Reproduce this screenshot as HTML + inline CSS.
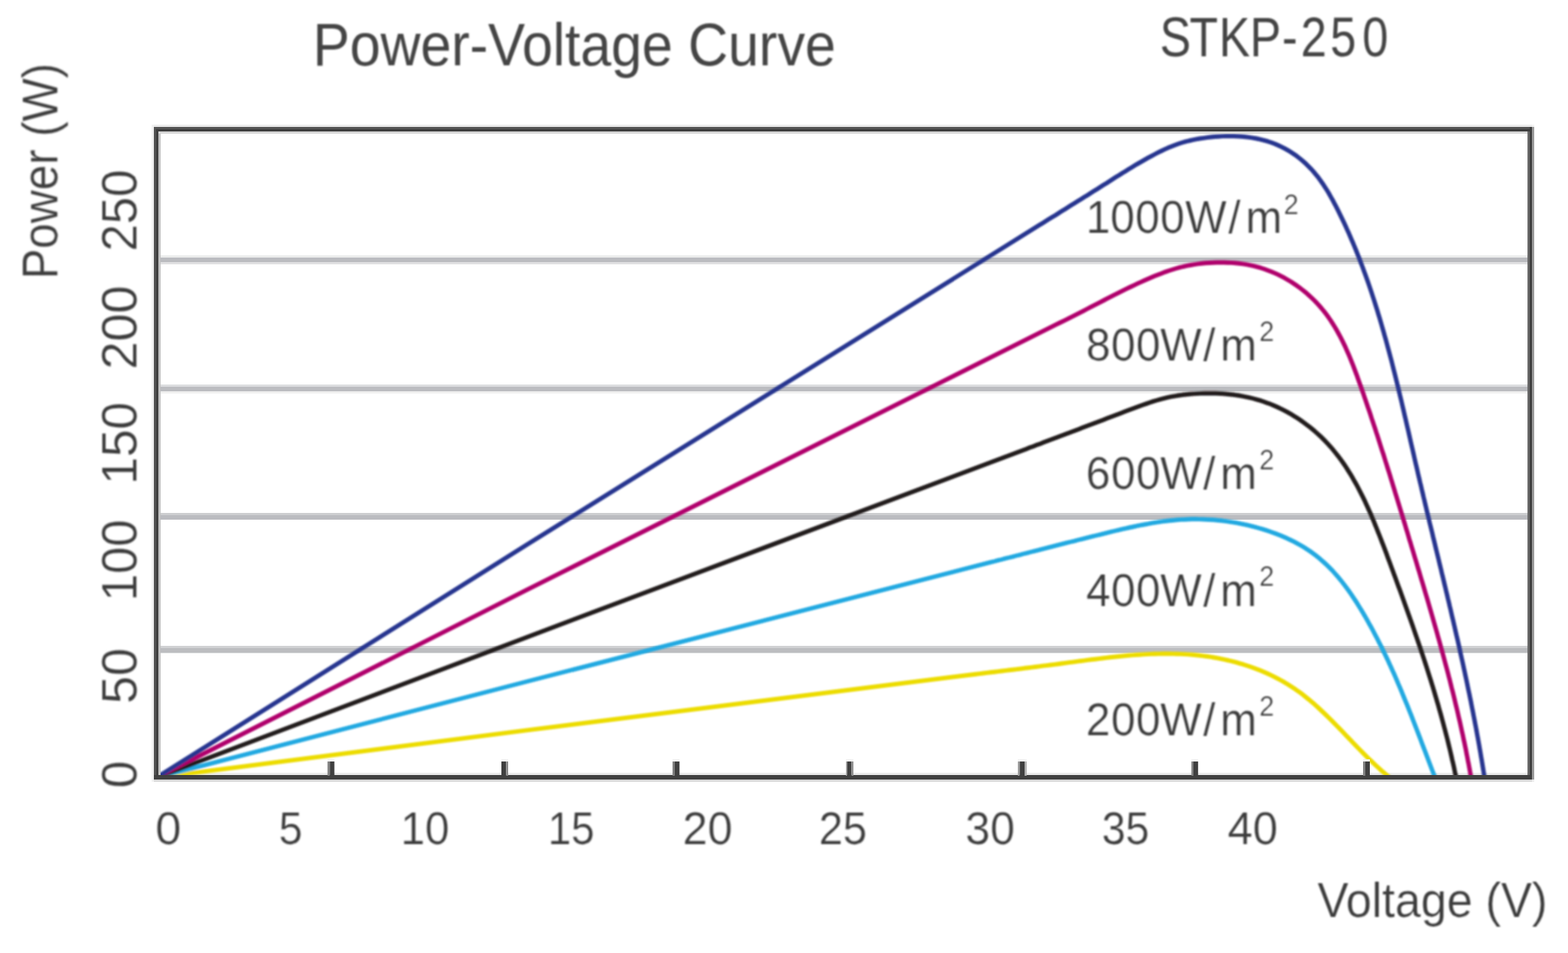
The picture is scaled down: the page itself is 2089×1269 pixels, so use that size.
<!DOCTYPE html>
<html lang="en"><head><meta charset="utf-8"><title>Power-Voltage Curve STKP-250</title>
<style>html,body{margin:0;padding:0;background:#fff}body{width:2089px;height:1269px;overflow:hidden}svg{display:block}text{font-family:'Liberation Sans', sans-serif}</style></head><body>
<svg width="2089" height="1269" viewBox="0 0 2089 1269">
<defs><filter id="soft" x="0" y="0" width="2089" height="1269" filterUnits="userSpaceOnUse"><feGaussianBlur stdDeviation="1.0"/></filter></defs>
<rect width="2089" height="1269" fill="#fff"/>
<g id="grid">
<rect x="211" y="340" width="1826" height="3" fill="#ebecec"/>
<rect x="211" y="343" width="1826" height="6" fill="#bbbcc0"/>
<rect x="211" y="349" width="1826" height="3" fill="#e0e0e2"/>
<rect x="211" y="512" width="1826" height="3" fill="#dcdddf"/>
<rect x="211" y="515" width="1826" height="6" fill="#bbbcc0"/>
<rect x="211" y="521" width="1826" height="3" fill="#f0f0f0"/>
<rect x="211" y="683" width="1826" height="3" fill="#cdced0"/>
<rect x="211" y="686" width="1826" height="6" fill="#bbbcc0"/>
<rect x="211" y="860" width="1826" height="3" fill="#d0d1d3"/>
<rect x="211" y="863" width="1826" height="6.5" fill="#bcbdc0"/>
<rect x="211" y="1029" width="1824" height="3" fill="#ebebeb"/>
</g>
<g id="curves" filter="url(#soft)" fill="none" stroke-width="5.9" stroke-linejoin="round" stroke-linecap="butt">
<path id="yellow" stroke="#ecdc00" d="M208.5,1035.4 L700.0,972.6 L1299.9,897.7 L1304.9,897.1 L1309.9,896.5 L1314.8,895.9 L1319.8,895.3 L1324.8,894.7 L1329.7,894.1 L1334.7,893.5 L1339.7,892.9 L1344.7,892.3 L1349.6,891.7 L1354.6,891.1 L1359.6,890.5 L1364.5,889.8 L1369.5,889.2 L1374.5,888.6 L1379.5,888.0 L1384.4,887.4 L1389.4,886.7 L1394.4,886.1 L1399.3,885.5 L1404.3,884.8 L1409.3,884.2 L1414.3,883.5 L1419.2,882.9 L1424.2,882.2 L1429.2,881.6 L1434.2,880.9 L1439.1,880.2 L1444.1,879.6 L1449.1,878.9 L1454.0,878.3 L1459.0,877.7 L1464.0,877.1 L1468.9,876.5 L1473.9,875.9 L1478.9,875.3 L1483.8,874.8 L1488.8,874.2 L1493.8,873.7 L1498.7,873.3 L1503.7,872.8 L1508.7,872.4 L1513.6,872.0 L1518.6,871.7 L1523.5,871.4 L1528.5,871.1 L1533.4,870.9 L1538.4,870.7 L1543.3,870.6 L1548.3,870.5 L1553.3,870.5 L1558.2,870.5 L1563.1,870.6 L1568.1,870.7 L1573.0,870.9 L1578.0,871.1 L1582.9,871.4 L1587.9,871.8 L1592.8,872.3 L1597.7,872.8 L1602.7,873.4 L1607.6,874.0 L1612.5,874.7 L1617.4,875.5 L1622.4,876.4 L1627.2,877.4 L1632.1,878.4 L1637.0,879.5 L1641.8,880.7 L1646.7,881.9 L1651.5,883.3 L1656.3,884.7 L1661.0,886.2 L1665.7,887.8 L1670.4,889.5 L1675.1,891.2 L1679.7,893.1 L1684.3,895.0 L1688.9,897.0 L1693.4,899.1 L1697.9,901.3 L1702.3,903.6 L1706.7,906.0 L1711.0,908.4 L1715.3,911.0 L1719.6,913.7 L1723.8,916.4 L1727.9,919.3 L1732.0,922.2 L1736.0,925.2 L1739.9,928.4 L1743.9,931.6 L1747.7,934.8 L1751.6,938.1 L1755.4,941.5 L1759.1,945.0 L1762.8,948.5 L1766.5,952.0 L1770.2,955.6 L1773.8,959.2 L1777.4,962.8 L1781.0,966.5 L1784.6,970.1 L1788.1,973.8 L1791.6,977.5 L1795.1,981.2 L1798.7,984.8 L1802.1,988.5 L1805.6,992.1 L1809.1,995.7 L1812.6,999.3 L1816.1,1002.8 L1819.6,1006.3 L1823.1,1009.8 L1826.7,1013.2 L1830.2,1016.6 L1833.7,1019.9 L1837.3,1023.2 L1840.9,1026.5 L1844.5,1029.6 L1848.1,1032.7 L1851.0,1035.1"/>
<path id="cyan" stroke="#21a9e1" d="M208.5,1035.4 L700.0,908.0 L1319.9,748.7 L1324.8,747.5 L1329.6,746.2 L1334.5,745.0 L1339.3,743.7 L1344.2,742.5 L1349.0,741.3 L1353.8,740.0 L1358.7,738.8 L1363.5,737.5 L1368.4,736.3 L1373.3,735.0 L1378.1,733.8 L1383.0,732.6 L1387.8,731.3 L1392.7,730.1 L1397.5,728.9 L1402.4,727.6 L1407.2,726.4 L1412.1,725.2 L1417.0,723.9 L1421.8,722.7 L1426.7,721.5 L1431.6,720.3 L1436.4,719.0 L1441.3,717.8 L1446.1,716.6 L1451.0,715.4 L1455.9,714.2 L1460.8,713.0 L1465.6,711.8 L1470.5,710.6 L1475.4,709.4 L1480.2,708.2 L1485.1,707.0 L1490.0,705.9 L1494.9,704.7 L1499.8,703.6 L1504.6,702.5 L1509.5,701.5 L1514.4,700.4 L1519.3,699.4 L1524.2,698.5 L1529.1,697.6 L1534.0,696.7 L1538.8,695.9 L1543.7,695.1 L1548.6,694.4 L1553.5,693.8 L1558.4,693.2 L1563.3,692.7 L1568.2,692.3 L1573.1,691.9 L1578.0,691.7 L1582.9,691.5 L1587.8,691.3 L1592.8,691.3 L1597.7,691.4 L1602.6,691.5 L1607.5,691.7 L1612.4,692.0 L1617.3,692.3 L1622.2,692.8 L1627.2,693.3 L1632.1,693.9 L1637.0,694.6 L1641.9,695.4 L1646.9,696.2 L1651.8,697.1 L1656.7,698.1 L1661.6,699.2 L1666.6,700.4 L1671.5,701.6 L1676.4,703.0 L1681.3,704.4 L1686.2,705.9 L1691.0,707.5 L1695.8,709.2 L1700.6,710.9 L1705.3,712.8 L1710.0,714.8 L1714.6,716.8 L1719.2,719.0 L1723.7,721.2 L1728.2,723.6 L1732.6,726.0 L1736.9,728.6 L1741.1,731.3 L1745.3,734.0 L1749.3,736.9 L1753.3,739.9 L1757.2,743.0 L1760.9,746.2 L1764.6,749.5 L1768.2,752.9 L1771.7,756.4 L1775.2,759.9 L1778.5,763.6 L1781.8,767.3 L1785.0,771.2 L1788.1,775.0 L1791.2,779.0 L1794.2,783.0 L1797.1,787.0 L1800.0,791.1 L1802.8,795.3 L1805.6,799.5 L1808.3,803.7 L1810.9,808.0 L1813.6,812.3 L1816.1,816.6 L1818.7,820.9 L1821.2,825.3 L1823.6,829.7 L1826.1,834.0 L1828.5,838.4 L1830.8,842.8 L1833.2,847.3 L1835.5,851.7 L1837.7,856.2 L1840.0,860.6 L1842.2,865.1 L1844.4,869.6 L1846.5,874.1 L1848.7,878.6 L1850.8,883.2 L1852.9,887.7 L1854.9,892.3 L1857.0,896.8 L1859.0,901.4 L1861.0,906.0 L1862.9,910.6 L1864.9,915.1 L1866.8,919.7 L1868.7,924.4 L1870.6,929.0 L1872.5,933.6 L1874.4,938.2 L1876.3,942.9 L1878.1,947.5 L1880.0,952.2 L1881.8,956.8 L1883.6,961.5 L1885.4,966.1 L1887.2,970.8 L1889.0,975.4 L1890.8,980.1 L1892.6,984.8 L1894.3,989.4 L1896.1,994.1 L1897.9,998.8 L1899.7,1003.4 L1901.4,1008.1 L1903.2,1012.8 L1905.0,1017.5 L1906.7,1022.1 L1908.5,1026.8 L1910.3,1031.4 L1911.8,1035.3"/>
<path id="black" stroke="#221e1f" d="M208.5,1035.4 L700.0,849.2 L1325.0,613.7 L1329.7,611.9 L1334.4,610.2 L1339.0,608.4 L1343.7,606.7 L1348.4,604.9 L1353.0,603.2 L1357.7,601.4 L1362.4,599.7 L1367.1,597.9 L1371.7,596.1 L1376.4,594.4 L1381.1,592.6 L1385.8,590.9 L1390.4,589.1 L1395.1,587.3 L1399.8,585.6 L1404.5,583.8 L1409.2,582.0 L1413.8,580.3 L1418.5,578.5 L1423.2,576.7 L1427.9,575.0 L1432.6,573.2 L1437.3,571.4 L1442.0,569.6 L1446.7,567.8 L1451.4,566.1 L1456.1,564.3 L1460.8,562.5 L1465.5,560.7 L1470.2,558.9 L1474.9,557.1 L1479.7,555.3 L1484.4,553.5 L1489.1,551.7 L1493.8,549.9 L1498.6,548.1 L1503.3,546.3 L1508.1,544.5 L1512.8,542.7 L1517.6,540.9 L1522.3,539.2 L1527.1,537.6 L1531.8,536.0 L1536.6,534.4 L1541.4,533.0 L1546.2,531.6 L1551.0,530.4 L1555.9,529.2 L1560.7,528.2 L1565.5,527.3 L1570.4,526.5 L1575.3,525.8 L1580.2,525.3 L1585.1,524.8 L1590.0,524.4 L1594.9,524.1 L1599.9,523.9 L1604.8,523.7 L1609.8,523.6 L1614.8,523.7 L1619.8,523.8 L1624.7,524.0 L1629.7,524.3 L1634.7,524.7 L1639.6,525.2 L1644.6,525.8 L1649.5,526.5 L1654.4,527.4 L1659.3,528.3 L1664.2,529.3 L1669.0,530.5 L1673.8,531.8 L1678.5,533.2 L1683.3,534.7 L1687.9,536.4 L1692.6,538.1 L1697.1,540.0 L1701.7,542.0 L1706.1,544.1 L1710.6,546.4 L1714.9,548.7 L1719.3,551.1 L1723.5,553.7 L1727.7,556.3 L1731.9,559.0 L1735.9,561.9 L1739.9,564.8 L1743.9,567.8 L1747.7,570.9 L1751.5,574.1 L1755.2,577.4 L1758.9,580.7 L1762.4,584.2 L1765.9,587.7 L1769.3,591.3 L1772.6,594.9 L1775.8,598.7 L1778.9,602.5 L1782.0,606.4 L1785.0,610.3 L1787.9,614.3 L1790.7,618.3 L1793.5,622.4 L1796.1,626.6 L1798.8,630.8 L1801.3,635.1 L1803.8,639.4 L1806.3,643.8 L1808.7,648.2 L1811.0,652.6 L1813.3,657.1 L1815.6,661.6 L1817.8,666.1 L1819.9,670.7 L1822.0,675.3 L1824.1,680.0 L1826.2,684.6 L1828.2,689.3 L1830.2,694.0 L1832.1,698.8 L1834.0,703.5 L1835.9,708.3 L1837.8,713.0 L1839.7,717.8 L1841.5,722.6 L1843.4,727.4 L1845.2,732.1 L1847.0,736.9 L1848.7,741.7 L1850.5,746.5 L1852.3,751.3 L1854.0,756.0 L1855.8,760.8 L1857.5,765.5 L1859.3,770.3 L1861.0,775.0 L1862.7,779.7 L1864.5,784.4 L1866.2,789.1 L1867.9,793.8 L1869.6,798.5 L1871.3,803.2 L1873.0,807.9 L1874.6,812.5 L1876.3,817.2 L1878.0,821.9 L1879.6,826.6 L1881.3,831.2 L1882.9,835.9 L1884.5,840.6 L1886.1,845.2 L1887.7,849.9 L1889.3,854.5 L1890.9,859.2 L1892.5,863.9 L1894.1,868.5 L1895.6,873.2 L1897.2,877.9 L1898.7,882.5 L1900.2,887.2 L1901.7,891.9 L1903.2,896.6 L1904.7,901.3 L1906.2,906.0 L1907.6,910.7 L1909.1,915.4 L1910.5,920.1 L1911.9,924.9 L1913.3,929.6 L1914.7,934.4 L1916.1,939.1 L1917.4,943.9 L1918.8,948.7 L1920.1,953.4 L1921.4,958.2 L1922.7,963.1 L1924.0,967.9 L1925.3,972.7 L1926.5,977.6 L1927.8,982.4 L1929.0,987.3 L1930.2,992.2 L1931.4,997.1 L1932.6,1002.1 L1933.7,1007.0 L1934.8,1012.0 L1936.0,1016.9 L1937.1,1021.9 L1938.1,1027.0 L1939.2,1032.0 L1939.9,1035.5"/>
<path id="magenta" stroke="#b0006c" d="M208.5,1035.4 L700.0,786.4 L1408.1,431.7 L1412.5,429.5 L1417.0,427.3 L1421.5,425.1 L1425.9,422.8 L1430.4,420.6 L1434.8,418.4 L1439.3,416.1 L1443.7,413.8 L1448.1,411.5 L1452.6,409.2 L1457.0,406.9 L1461.5,404.6 L1465.9,402.3 L1470.4,400.0 L1474.8,397.7 L1479.3,395.4 L1483.7,393.1 L1488.2,390.9 L1492.7,388.6 L1497.2,386.4 L1501.7,384.2 L1506.2,382.0 L1510.8,379.8 L1515.3,377.7 L1519.9,375.6 L1524.5,373.5 L1529.1,371.5 L1533.7,369.5 L1538.3,367.6 L1543.0,365.7 L1547.7,363.9 L1552.4,362.1 L1557.1,360.5 L1561.9,359.0 L1566.7,357.5 L1571.5,356.2 L1576.3,355.0 L1581.2,353.9 L1586.1,353.0 L1591.1,352.1 L1596.0,351.4 L1601.0,350.8 L1605.9,350.3 L1610.9,350.0 L1615.9,349.7 L1620.9,349.5 L1625.9,349.5 L1630.9,349.5 L1635.9,349.7 L1640.8,349.9 L1645.8,350.3 L1650.7,350.8 L1655.6,351.4 L1660.5,352.2 L1665.3,353.1 L1670.2,354.1 L1674.9,355.4 L1679.7,356.7 L1684.4,358.2 L1689.0,359.9 L1693.7,361.7 L1698.2,363.6 L1702.7,365.7 L1707.1,367.9 L1711.5,370.2 L1715.8,372.7 L1720.1,375.3 L1724.2,378.0 L1728.3,380.8 L1732.3,383.7 L1736.2,386.8 L1740.1,389.9 L1743.8,393.2 L1747.5,396.6 L1751.0,400.0 L1754.5,403.6 L1757.8,407.3 L1761.0,411.0 L1764.2,414.9 L1767.2,418.8 L1770.1,422.8 L1772.9,426.9 L1775.6,431.1 L1778.2,435.3 L1780.8,439.6 L1783.2,444.0 L1785.6,448.4 L1787.9,452.9 L1790.1,457.4 L1792.3,461.9 L1794.3,466.6 L1796.4,471.2 L1798.4,475.9 L1800.3,480.6 L1802.2,485.3 L1804.0,490.1 L1805.8,494.9 L1807.6,499.6 L1809.3,504.4 L1811.0,509.2 L1812.7,514.0 L1814.4,518.8 L1816.1,523.6 L1817.7,528.4 L1819.4,533.2 L1821.0,538.0 L1822.6,542.8 L1824.3,547.5 L1825.9,552.3 L1827.4,557.1 L1829.0,561.8 L1830.6,566.6 L1832.2,571.3 L1833.7,576.1 L1835.3,580.8 L1836.8,585.6 L1838.3,590.3 L1839.8,595.1 L1841.3,599.8 L1842.9,604.5 L1844.4,609.3 L1845.8,614.0 L1847.3,618.7 L1848.8,623.5 L1850.3,628.2 L1851.8,632.9 L1853.2,637.7 L1854.7,642.4 L1856.1,647.1 L1857.6,651.8 L1859.0,656.6 L1860.5,661.3 L1861.9,666.0 L1863.4,670.8 L1864.8,675.5 L1866.3,680.3 L1867.7,685.0 L1869.1,689.7 L1870.6,694.5 L1872.0,699.2 L1873.4,704.0 L1874.9,708.7 L1876.3,713.5 L1877.7,718.3 L1879.2,723.0 L1880.6,727.8 L1882.1,732.6 L1883.5,737.3 L1884.9,742.1 L1886.4,746.9 L1887.8,751.7 L1889.2,756.5 L1890.7,761.2 L1892.1,766.0 L1893.5,770.8 L1895.0,775.6 L1896.4,780.4 L1897.8,785.2 L1899.2,790.0 L1900.7,794.9 L1902.1,799.7 L1903.5,804.5 L1904.9,809.3 L1906.3,814.1 L1907.7,819.0 L1909.1,823.8 L1910.4,828.6 L1911.8,833.4 L1913.2,838.3 L1914.6,843.1 L1915.9,847.9 L1917.3,852.8 L1918.6,857.6 L1919.9,862.5 L1921.3,867.3 L1922.6,872.2 L1923.9,877.0 L1925.2,881.9 L1926.5,886.7 L1927.8,891.6 L1929.1,896.4 L1930.3,901.3 L1931.6,906.1 L1932.8,911.0 L1934.0,915.9 L1935.3,920.7 L1936.5,925.6 L1937.7,930.5 L1938.8,935.3 L1940.0,940.2 L1941.2,945.1 L1942.3,949.9 L1943.4,954.8 L1944.6,959.7 L1945.7,964.6 L1946.7,969.4 L1947.8,974.3 L1948.9,979.2 L1949.9,984.1 L1951.0,989.0 L1952.0,993.8 L1953.0,998.7 L1953.9,1003.6 L1954.9,1008.5 L1955.8,1013.4 L1956.8,1018.2 L1957.7,1023.1 L1958.6,1028.0 L1959.4,1032.9 L1959.9,1035.4"/>
<path id="blue" stroke="#26348f" d="M208.5,1035.4 L700.0,726.5 L1385.0,299.6 L1389.3,296.9 L1393.5,294.3 L1397.8,291.6 L1402.0,289.0 L1406.3,286.4 L1410.5,283.7 L1414.7,281.1 L1419.0,278.4 L1423.2,275.8 L1427.5,273.1 L1431.7,270.5 L1436.0,267.8 L1440.2,265.2 L1444.4,262.5 L1448.7,259.9 L1452.9,257.2 L1457.1,254.6 L1461.4,251.9 L1465.6,249.2 L1469.8,246.5 L1474.1,243.9 L1478.3,241.2 L1482.5,238.5 L1486.7,235.8 L1491.0,233.2 L1495.2,230.5 L1499.5,227.9 L1503.7,225.3 L1508.0,222.7 L1512.3,220.1 L1516.5,217.6 L1520.9,215.1 L1525.2,212.6 L1529.5,210.2 L1533.9,207.8 L1538.3,205.5 L1542.7,203.2 L1547.2,201.0 L1551.6,198.9 L1556.1,196.8 L1560.7,194.9 L1565.2,193.2 L1569.9,191.5 L1574.5,190.0 L1579.2,188.7 L1583.9,187.5 L1588.7,186.4 L1593.5,185.4 L1598.4,184.5 L1603.3,183.8 L1608.3,183.1 L1613.3,182.5 L1618.3,182.0 L1623.4,181.7 L1628.5,181.4 L1633.6,181.2 L1638.7,181.2 L1643.8,181.3 L1648.9,181.5 L1654.0,181.8 L1659.1,182.3 L1664.2,182.9 L1669.2,183.6 L1674.2,184.5 L1679.1,185.6 L1684.0,186.8 L1688.8,188.2 L1693.6,189.8 L1698.3,191.5 L1702.9,193.5 L1707.4,195.6 L1711.9,197.9 L1716.2,200.3 L1720.5,203.0 L1724.6,205.7 L1728.7,208.7 L1732.6,211.8 L1736.4,215.0 L1740.1,218.3 L1743.6,221.8 L1747.1,225.4 L1750.3,229.0 L1753.5,232.8 L1756.6,236.7 L1759.5,240.7 L1762.3,244.7 L1765.0,248.8 L1767.7,253.0 L1770.3,257.3 L1772.7,261.6 L1775.2,265.9 L1777.5,270.3 L1779.8,274.7 L1782.1,279.2 L1784.3,283.6 L1786.5,288.1 L1788.7,292.6 L1790.8,297.1 L1792.9,301.6 L1794.9,306.1 L1797.0,310.6 L1799.0,315.2 L1800.9,319.8 L1802.9,324.3 L1804.8,328.9 L1806.7,333.5 L1808.5,338.1 L1810.4,342.8 L1812.2,347.4 L1813.9,352.0 L1815.7,356.7 L1817.4,361.4 L1819.1,366.0 L1820.8,370.7 L1822.5,375.4 L1824.1,380.1 L1825.7,384.9 L1827.3,389.6 L1828.8,394.3 L1830.4,399.1 L1831.9,403.8 L1833.4,408.6 L1834.9,413.3 L1836.3,418.1 L1837.8,422.9 L1839.2,427.7 L1840.6,432.5 L1842.0,437.3 L1843.4,442.1 L1844.7,446.9 L1846.1,451.7 L1847.4,456.6 L1848.7,461.4 L1850.0,466.2 L1851.3,471.1 L1852.6,475.9 L1853.9,480.8 L1855.1,485.6 L1856.3,490.5 L1857.6,495.4 L1858.8,500.2 L1860.0,505.1 L1861.2,510.0 L1862.4,514.9 L1863.6,519.8 L1864.7,524.6 L1865.9,529.5 L1867.1,534.4 L1868.2,539.3 L1869.4,544.2 L1870.5,549.1 L1871.6,554.0 L1872.8,558.9 L1873.9,563.8 L1875.0,568.7 L1876.2,573.6 L1877.3,578.5 L1878.4,583.4 L1879.5,588.3 L1880.6,593.2 L1881.8,598.1 L1882.9,603.0 L1884.0,607.9 L1885.1,612.8 L1886.2,617.6 L1887.4,622.5 L1888.5,627.4 L1889.6,632.3 L1890.8,637.2 L1891.9,642.1 L1893.1,646.9 L1894.2,651.8 L1895.4,656.7 L1896.5,661.6 L1897.7,666.4 L1898.8,671.3 L1900.0,676.1 L1901.1,681.0 L1902.3,685.9 L1903.5,690.7 L1904.6,695.6 L1905.8,700.4 L1907.0,705.3 L1908.2,710.1 L1909.3,715.0 L1910.5,719.8 L1911.7,724.7 L1912.8,729.5 L1914.0,734.4 L1915.2,739.2 L1916.4,744.1 L1917.5,748.9 L1918.7,753.8 L1919.9,758.6 L1921.0,763.5 L1922.2,768.3 L1923.4,773.2 L1924.5,778.0 L1925.7,782.9 L1926.8,787.7 L1928.0,792.5 L1929.1,797.4 L1930.3,802.2 L1931.4,807.1 L1932.6,811.9 L1933.7,816.8 L1934.8,821.6 L1936.0,826.5 L1937.1,831.3 L1938.2,836.2 L1939.3,841.0 L1940.4,845.9 L1941.6,850.8 L1942.7,855.6 L1943.8,860.5 L1944.9,865.3 L1945.9,870.2 L1947.0,875.1 L1948.1,879.9 L1949.2,884.8 L1950.2,889.7 L1951.3,894.6 L1952.3,899.4 L1953.4,904.3 L1954.4,909.2 L1955.4,914.1 L1956.4,919.0 L1957.5,923.9 L1958.5,928.8 L1959.5,933.6 L1960.4,938.5 L1961.4,943.5 L1962.4,948.4 L1963.3,953.3 L1964.3,958.2 L1965.2,963.1 L1966.2,968.0 L1967.1,972.9 L1968.0,977.9 L1968.9,982.8 L1969.8,987.7 L1970.7,992.7 L1971.5,997.6 L1972.4,1002.6 L1973.2,1007.5 L1974.1,1012.5 L1974.9,1017.5 L1975.7,1022.4 L1976.5,1027.4 L1977.3,1032.4 L1977.8,1035.5"/>
</g>
<g id="frame">
<rect x="202" y="166" width="3" height="875" fill="#f1f1f1"/>
<rect x="211" y="175" width="3" height="857" fill="#c3c3c3"/>
<rect x="205" y="166" width="1836" height="3" fill="#ebebeb"/>
<rect x="211" y="175" width="1824" height="3" fill="#d6d6d6"/>
<rect x="205" y="1038" width="1836" height="3" fill="#d8d8d8"/>
<rect x="2041" y="169" width="3" height="869" fill="#9a9a9a"/>
<rect x="2041" y="1038" width="3" height="3" fill="#ececec"/>
<rect x="2041" y="166" width="3" height="3" fill="#f3f3f3"/>
<rect x="2035" y="175" width="3" height="857" fill="#686868"/>
<rect x="205" y="169" width="3" height="869" fill="#525252"/>
<rect x="208" y="169" width="3" height="869" fill="#404040"/>
<rect x="205" y="169" width="1836" height="3" fill="#555555"/>
<rect x="208" y="172" width="1833" height="3" fill="#3e3e3e"/>
<rect x="205" y="1032" width="1836" height="6" fill="#404040"/>
<rect x="2038" y="169" width="3" height="869" fill="#3e3e3e"/>
<rect x="436.4" y="1011" width="9.1" height="3" fill="#f2f2f2"/>
<rect x="436.4" y="1014" width="3.0" height="19" fill="#808080"/>
<rect x="439.4" y="1014" width="6.1" height="19" fill="#404040"/>
<rect x="668.0" y="1011" width="9.0" height="3" fill="#f2f2f2"/>
<rect x="668.0" y="1014" width="6.3" height="19" fill="#404040"/>
<rect x="674.3" y="1014" width="2.7" height="19" fill="#8a8a8a"/>
<rect x="896.0" y="1011" width="9.3" height="3" fill="#f2f2f2"/>
<rect x="896.0" y="1014" width="3.0" height="19" fill="#808080"/>
<rect x="899.0" y="1014" width="6.3" height="19" fill="#404040"/>
<rect x="1127.0" y="1011" width="10.0" height="3" fill="#f2f2f2"/>
<rect x="1127.0" y="1014" width="1.5" height="19" fill="#b0b0b0"/>
<rect x="1128.5" y="1014" width="6.0" height="19" fill="#404040"/>
<rect x="1134.5" y="1014" width="2.5" height="19" fill="#909090"/>
<rect x="1356.0" y="1011" width="11.8" height="3" fill="#f2f2f2"/>
<rect x="1356.0" y="1014" width="2.5" height="19" fill="#a0a0a0"/>
<rect x="1358.5" y="1014" width="6.5" height="19" fill="#404040"/>
<rect x="1365.0" y="1014" width="2.8" height="19" fill="#b0b0b0"/>
<rect x="1587.3" y="1011" width="8.9" height="3" fill="#f2f2f2"/>
<rect x="1587.3" y="1014" width="2.7" height="19" fill="#808080"/>
<rect x="1590.0" y="1014" width="6.2" height="19" fill="#404040"/>
<rect x="1816.0" y="1011" width="9.0" height="3" fill="#f2f2f2"/>
<rect x="1816.0" y="1014" width="3.0" height="19" fill="#808080"/>
<rect x="1819.0" y="1014" width="6.0" height="19" fill="#404040"/>
</g>
<g id="labels" filter="url(#soft)" fill="#3e3e3e" stroke="#fff" stroke-width="0.2">
<text transform="translate(416.80,86.70) scale(0.9218,1)" font-size="80.00" stroke="none" fill="#444">Power-Voltage Curve</text>
<text transform="translate(1755.18,1220.50) scale(0.9630,1)" font-size="64.35">Voltage (V)</text>
<text transform="translate(206.92,1123.60) scale(1.0204,1)" font-size="60.85">0</text>
<text transform="translate(371.44,1123.60) scale(0.9302,1)" font-size="60.85">5</text>
<text transform="translate(533.84,1123.60) scale(0.9579,1)" font-size="60.85">10</text>
<text transform="translate(730.05,1123.60) scale(0.9147,1)" font-size="60.85">15</text>
<text transform="translate(909.51,1123.60) scale(0.9813,1)" font-size="60.85">20</text>
<text transform="translate(1091.12,1123.60) scale(0.9458,1)" font-size="60.85">25</text>
<text transform="translate(1286.33,1123.60) scale(0.9718,1)" font-size="60.85">30</text>
<text transform="translate(1467.92,1123.60) scale(0.9351,1)" font-size="60.85">35</text>
<text transform="translate(1635.60,1123.60) scale(0.9892,1)" font-size="60.85">40</text>
<text transform="translate(0,75.00) scale(0.8300,1)" x="1861.81 1909.24 1956.68 2006.37 2057.78 2088.10 2135.22 2186.65" y="0" font-size="74.79" stroke="none" fill="#444">STKP-250</text>
<text transform="translate(0,310.00) scale(0.9600,1)" x="1507.05 1540.78 1575.57 1610.05 1644.74 1704.61 1728.72" y="0" font-size="60.85">1000W/m<tspan x="1781.54" y="-25.20" font-size="37.29">2</tspan></text>
<text transform="translate(0,479.80) scale(0.9600,1)" x="1507.43 1541.82 1576.61 1610.06 1669.82 1693.51" y="0" font-size="60.85">800W/m<tspan x="1747.73" y="-26.20" font-size="37.14">2</tspan></text>
<text transform="translate(0,651.40) scale(0.9600,1)" x="1507.13 1541.82 1576.61 1610.06 1669.82 1693.51" y="0" font-size="60.85">600W/m<tspan x="1747.73" y="-26.00" font-size="37.14">2</tspan></text>
<text transform="translate(0,806.50) scale(0.9600,1)" x="1507.43 1541.82 1576.61 1610.06 1669.82 1693.51" y="0" font-size="60.85">400W/m<tspan x="1747.73" y="-26.20" font-size="37.14">2</tspan></text>
<text transform="translate(0,979.00) scale(0.9600,1)" x="1507.13 1541.82 1576.61 1610.06 1669.82 1693.51" y="0" font-size="60.85">200W/m<tspan x="1747.73" y="-26.20" font-size="37.14">2</tspan></text>
<text transform="translate(76.40,371.88) rotate(-90) scale(0.9211,1)" font-size="66.23">Power (W)</text>
<text transform="translate(182.30,334.87) rotate(-90) scale(0.9867,1)" font-size="66.20">250</text>
<text transform="translate(182.30,491.95) rotate(-90) scale(1.0125,1)" font-size="66.20">200</text>
<text transform="translate(182.30,645.27) rotate(-90) scale(0.9960,1)" font-size="66.20">150</text>
<text transform="translate(182.30,800.51) rotate(-90) scale(0.9834,1)" font-size="66.20">100</text>
<text transform="translate(182.30,937.18) rotate(-90) scale(1.0105,1)" font-size="66.20">50</text>
<text transform="translate(182.30,1049.42) rotate(-90) scale(0.9914,1)" font-size="66.20">0</text>
</g>
</svg></body></html>
